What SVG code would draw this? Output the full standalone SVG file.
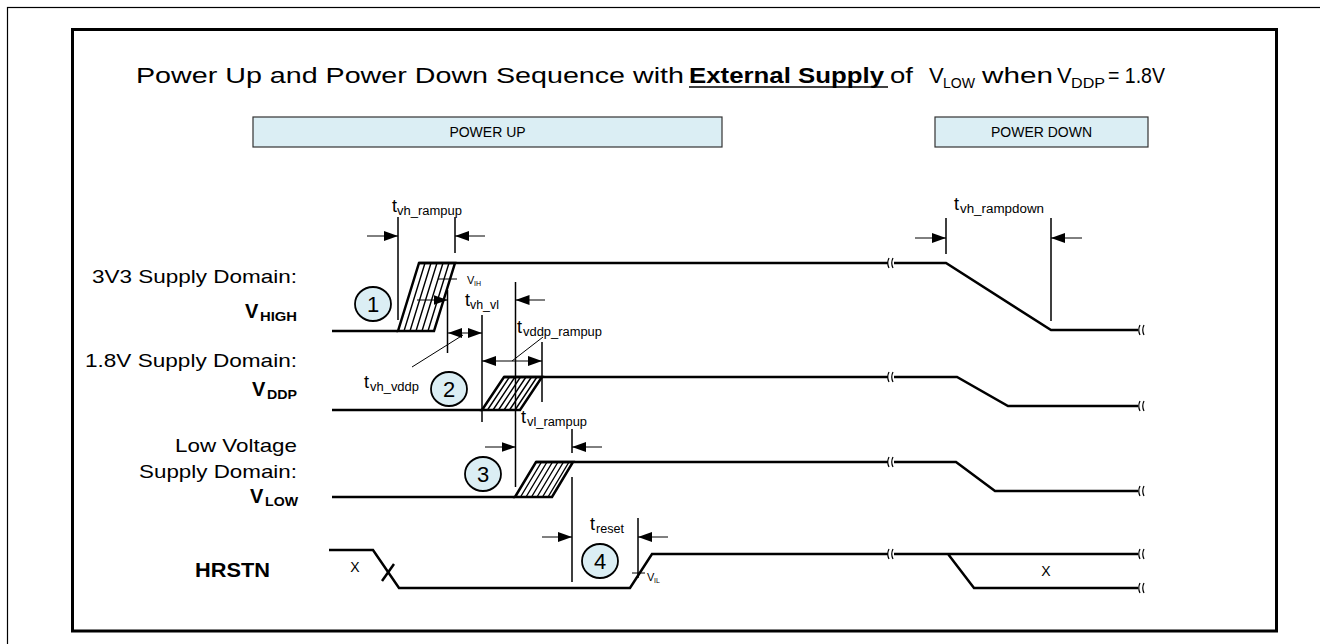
<svg xmlns="http://www.w3.org/2000/svg" width="1320" height="644" viewBox="0 0 1320 644">
<style>
text{font-family:"Liberation Sans",Arial,sans-serif;fill:#000}
.sig{fill:none;stroke:#000;stroke-width:2.5;stroke-linejoin:miter}
.dim{fill:none;stroke:#000;stroke-width:1.5}
.arr{fill:none;stroke:#000;stroke-width:1}
.hat{fill:none;stroke:#000;stroke-width:1.4}
.brk{fill:none;stroke:#000;stroke-width:1.2}
.num{fill:#dbeef4;stroke:#000;stroke-width:1.8}
.box{fill:#dbeef4;stroke:#333;stroke-width:1.2}
.lbl{font-size:19px}
.bold{font-weight:bold}
.t{font-size:18px}
.sub{font-size:12.5px}
</style>
<defs>
<marker id="ah" markerUnits="userSpaceOnUse" markerWidth="15" markerHeight="10" refX="14" refY="5" orient="auto-start-reverse">
<path d="M0,0 L14,5 L0,10 z" fill="#000"/>
</marker>
</defs>
<rect x="7.5" y="7.5" width="1330" height="660" fill="#fff" stroke="#000" stroke-width="1.2"/>
<rect x="72.5" y="29.5" width="1204" height="601.5" fill="#fff" stroke="#000" stroke-width="3"/>

<g id="title">
<text x="136" y="83" font-size="22" textLength="548" lengthAdjust="spacingAndGlyphs">Power Up and Power Down Sequence with</text>
<text x="689" y="83" font-size="22" font-weight="bold" textLength="195" lengthAdjust="spacingAndGlyphs">External Supply</text>
<line x1="689" y1="87" x2="888" y2="87" stroke="#000" stroke-width="1.6"/>
<text x="890" y="83" font-size="22" textLength="23" lengthAdjust="spacingAndGlyphs">of</text>
<text x="929" y="83" font-size="22">V</text>
<text x="943" y="88" font-size="15" textLength="32" lengthAdjust="spacingAndGlyphs">LOW</text>
<text x="982" y="83" font-size="22" textLength="71" lengthAdjust="spacingAndGlyphs">when</text>
<text x="1057" y="83" font-size="22">V</text>
<text x="1071" y="88" font-size="15" textLength="34" lengthAdjust="spacingAndGlyphs">DDP</text>
<text x="1108" y="83" font-size="22" textLength="57" lengthAdjust="spacingAndGlyphs">= 1.8V</text>
</g>

<g id="power-up">
<rect class="box" x="253" y="117" width="469" height="30"/>
<text x="487.5" y="137" font-size="14" text-anchor="middle">POWER UP</text>
</g>
<g id="power-down">
<rect class="box" x="935" y="117" width="213" height="30"/>
<text x="1041.5" y="137" font-size="14" text-anchor="middle">POWER DOWN</text>
</g>

<g id="labels">
<text class="lbl" x="92" y="283" textLength="205" lengthAdjust="spacingAndGlyphs">3V3 Supply Domain:</text>
<text class="bold" x="245" y="318" font-size="20">V</text>
<text class="bold" x="260" y="321" font-size="13" textLength="37" lengthAdjust="spacingAndGlyphs">HIGH</text>
<text class="lbl" x="85" y="367" textLength="212" lengthAdjust="spacingAndGlyphs">1.8V Supply Domain:</text>
<text class="bold" x="252" y="396" font-size="20">V</text>
<text class="bold" x="267" y="399" font-size="13" textLength="30" lengthAdjust="spacingAndGlyphs">DDP</text>
<text class="lbl" x="175" y="452" textLength="122" lengthAdjust="spacingAndGlyphs">Low Voltage</text>
<text class="lbl" x="139" y="478" textLength="158" lengthAdjust="spacingAndGlyphs">Supply Domain:</text>
<text class="bold" x="250" y="503" font-size="20">V</text>
<text class="bold" x="265" y="506" font-size="13" textLength="33" lengthAdjust="spacingAndGlyphs">LOW</text>
<text class="bold" x="195" y="577" font-size="20" textLength="75" lengthAdjust="spacingAndGlyphs">HRSTN</text>
</g>

<g id="vhigh">
<path class="sig" d="M332,331 H398 M419,263 H888 M894,263 H946 L1051,330 H1138"/>
<polygon class="sig" points="398,331 419,263 455,263 434,331" stroke-width="2"/>
<path class="hat" d="M404,331 L425,263 M410,331 L431,263 M416,331 L437,263 M422,331 L443,263 M428,331 L449,263"/>
</g>
<g id="vddp">
<path class="sig" d="M332,410 H482 M504,377 H888 M894,377 H957 L1008,406 H1138"/>
<polygon class="sig" points="482,410 504,377 542,377 520,410" stroke-width="2"/>
<path class="hat" d="M487.5,410 L509.5,377 M493,410 L515,377 M498.5,410 L520.5,377 M504,410 L526,377 M509.5,410 L531.5,377 M515,410 L537,377"/>
</g>
<g id="vlow">
<path class="sig" d="M332,497 H515 M536,462 H888 M894,462 H956 L995,491 H1138"/>
<polygon class="sig" points="515,497 536,462 573,462 552,497" stroke-width="2"/>
<path class="hat" d="M520.5,497 L541.5,462 M526,497 L547,462 M531.5,497 L552.5,462 M537,497 L558,462 M542.5,497 L563.5,462 M548,497 L569,462"/>
</g>
<g id="hrstn">
<path class="sig" d="M329,550 H373 L399,588 H630 L652,554 H888 M894,554 H1138 M948,554 L974,588 H1138"/>
<path class="sig" d="M382,581 L394,564" stroke-width="2"/>
<text x="355" y="572" font-size="14" text-anchor="middle">X</text>
<text x="1046" y="576" font-size="14" text-anchor="middle">X</text>
</g>

<g id="breaks">
<path class="brk" d="M889,258 q-2.5,5 0,10 M893,258 q-2.5,5 0,10"/>
<path class="brk" d="M889,372 q-2.5,5 0,10 M893,372 q-2.5,5 0,10"/>
<path class="brk" d="M889,457 q-2.5,5 0,10 M893,457 q-2.5,5 0,10"/>
<path class="brk" d="M889,549 q-2.5,5 0,10 M893,549 q-2.5,5 0,10"/>
<path class="brk" d="M1140,325 q-2.5,5 0,10 M1144,325 q-2.5,5 0,10"/>
<path class="brk" d="M1140,401 q-2.5,5 0,10 M1144,401 q-2.5,5 0,10"/>
<path class="brk" d="M1140,486 q-2.5,5 0,10 M1144,486 q-2.5,5 0,10"/>
<path class="brk" d="M1140,549 q-2.5,5 0,10 M1144,549 q-2.5,5 0,10"/>
<path class="brk" d="M1140,583 q-2.5,5 0,10 M1144,583 q-2.5,5 0,10"/>
</g>

<g id="connectors">
<path class="dim" d="M398,217 V320 M455,217 V253 M447.5,290 V353 M515.5,282 V487 M482,315 V422 M542,342 V402 M572,429 V453 M572,477 V582 M638,518 V578 M946,218 V254 M1051,218 V321"/>
<line class="arr" x1="367" y1="236" x2="398" y2="236" marker-end="url(#ah)"/>
<line class="arr" x1="485" y1="236" x2="455" y2="236" marker-end="url(#ah)"/>
<line class="arr" x1="417" y1="300" x2="447.5" y2="300" marker-end="url(#ah)"/>
<line class="arr" x1="545" y1="300" x2="515.5" y2="300" marker-end="url(#ah)"/>
<line class="arr" x1="448" y1="333" x2="482" y2="333" marker-start="url(#ah)" marker-end="url(#ah)"/>
<line class="arr" x1="412" y1="367" x2="463" y2="335"/>
<line class="arr" x1="482" y1="361" x2="542" y2="361" marker-start="url(#ah)" marker-end="url(#ah)"/>
<line class="arr" x1="543" y1="337" x2="512" y2="361"/>
<line class="arr" x1="485" y1="447" x2="515.5" y2="447" marker-end="url(#ah)"/>
<line class="arr" x1="602" y1="447" x2="572" y2="447" marker-end="url(#ah)"/>
<line class="arr" x1="542" y1="537" x2="572" y2="537" marker-end="url(#ah)"/>
<line class="arr" x1="668" y1="537" x2="638" y2="537" marker-end="url(#ah)"/>
<line class="arr" x1="915" y1="238" x2="946" y2="238" marker-end="url(#ah)"/>
<line class="arr" x1="1082" y1="238" x2="1051" y2="238" marker-end="url(#ah)"/>
<line class="arr" x1="438" y1="279" x2="457" y2="279"/>
<line class="arr" x1="632" y1="573" x2="645" y2="573"/>
</g>

<g id="timing-labels">
<text class="t" x="392" y="212">t</text><text class="sub" x="397" y="215" textLength="65" lengthAdjust="spacingAndGlyphs">vh_rampup</text>
<text class="t" x="465" y="306">t</text><text class="sub" x="470" y="309" textLength="29" lengthAdjust="spacingAndGlyphs">vh_vl</text>
<text class="t" x="364" y="388">t</text><text class="sub" x="370" y="391" textLength="49" lengthAdjust="spacingAndGlyphs">vh_vddp</text>
<text class="t" x="517" y="333">t</text><text class="sub" x="523" y="336" textLength="79" lengthAdjust="spacingAndGlyphs">vddp_rampup</text>
<text class="t" x="521" y="423">t</text><text class="sub" x="527" y="426" textLength="60" lengthAdjust="spacingAndGlyphs">vl_rampup</text>
<text class="t" x="590" y="530">t</text><text class="sub" x="596" y="533" textLength="28" lengthAdjust="spacingAndGlyphs">reset</text>
<text class="t" x="954" y="210">t</text><text class="sub" x="960" y="213" textLength="84" lengthAdjust="spacingAndGlyphs">vh_rampdown</text>
<text x="467" y="284" font-size="11">V</text><text x="474" y="286" font-size="7">IH</text>
<text x="647" y="581" font-size="11">V</text><text x="654" y="583" font-size="7">IL</text>
</g>

<g id="step1"><ellipse class="num" cx="373" cy="304" rx="18" ry="17"/><text x="373" y="312" font-size="22" text-anchor="middle">1</text></g>
<g id="step2"><ellipse class="num" cx="449" cy="389" rx="18" ry="17"/><text x="449" y="397" font-size="22" text-anchor="middle">2</text></g>
<g id="step3"><ellipse class="num" cx="483" cy="474" rx="18" ry="17"/><text x="483" y="482" font-size="22" text-anchor="middle">3</text></g>
<g id="step4"><ellipse class="num" cx="600" cy="561" rx="18" ry="17"/><text x="600" y="569" font-size="22" text-anchor="middle">4</text></g>
</svg>
